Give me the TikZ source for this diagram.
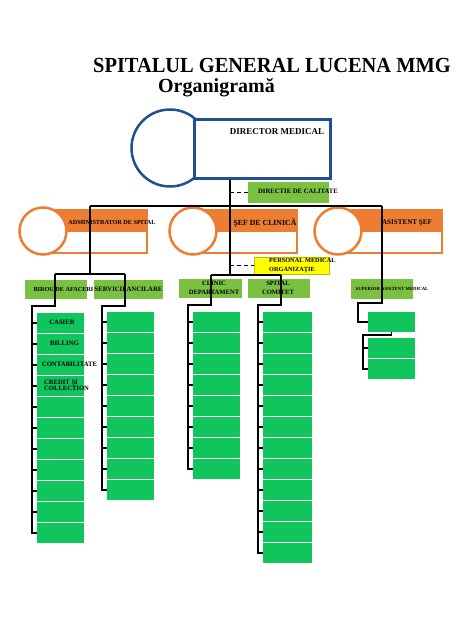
\documentclass[tikz,border=0pt]{standalone}
\usepackage{fontspec}
\setmainfont{Liberation Serif}
\definecolor{dblue}{RGB}{31,80,145}
\definecolor{orng}{RGB}{237,125,49}
\definecolor{lgrn}{RGB}{122,193,66}
\definecolor{bgrn}{RGB}{16,198,92}
\definecolor{yel}{RGB}{255,255,0}
\begin{document}
\begin{tikzpicture}[x=1pt,y=-1pt,
  gbox/.style={fill=bgrn, anchor=north west, inner sep=0pt, outer sep=0pt, minimum height=20pt, minimum width=47pt},
  lbox/.style={fill=lgrn, anchor=north west, inner sep=0pt, outer sep=0pt},
  obox/.style={draw=orng, line width=2pt, fill=white, anchor=north west, inner sep=0pt, outer sep=0pt, minimum width=102pt, minimum height=43pt},
  ocirc/.style={circle, draw=orng, line width=2.5pt, fill=white, inner sep=0pt, minimum size=47pt},
  conn/.style={line width=1.4pt, black},
  dconn/.style={line width=1.2pt, black, dash pattern=on 4pt off 3pt},
  lbl/.style={inner sep=0pt, anchor=base, font=\fontsize{#1}{#1}\selectfont\bfseries},
  lbl/.default=6.6,
  mlbl/.style={inner sep=0pt, font=\fontsize{6.6}{9}\selectfont\bfseries},
]
\useasboundingbox (0,0) rectangle (474,632);

% title
\node[lbl=21.5] (title) at (272,72.8) {\scalebox{0.95}[1]{SPITALUL GENERAL LUCENA MMG}};
\node[lbl=20] (subtitle) at (216.5,92) {Organigramă};

% director
\node[circle, draw=dblue, line width=2.5pt, fill=white, inner sep=0pt, minimum size=77pt] (dirc) at (170,148) {};
\node[draw=dblue, line width=2.5pt, fill=white, anchor=north west, inner sep=0pt, minimum width=136pt, minimum height=59pt] (dir) at (193,118) {};
\node[lbl=9] (dirt) at (277,134) {DIRECTOR MEDICAL};

% calitate
\node[lbox, minimum width=81pt, minimum height=21pt] (cal) at (248,182) {};
\node[lbl=6.7] (calt) at (298,193.3) {DIRECTIE DE CALITATE};

% level 2
\node[obox] (adm) at (45,210) {};
\fill[orng] (adm.north west) rectangle ([yshift=-22pt]adm.north east);
\node[ocirc] (admc) at (43,231) {};
\node[lbl=6.2] (admt) at (112,224) {ADMINISTRATOR DE SPITAL};

\node[obox] (clin) at (195,210) {};
\fill[orng] (clin.north west) rectangle ([yshift=-22pt]clin.north east);
\node[ocirc] (clinc) at (193,231) {};
\node[lbl=7.8] (clint) at (265,225.5) {ŞEF DE CLINICĂ};

\node[obox] (asis) at (340,210) {};
\fill[orng] (asis.north west) rectangle ([yshift=-22pt]asis.north east);
\node[ocirc] (asisc) at (338,231) {};
\node[lbl=7.1] (asist) at (407,224.5) {ASISTENT ŞEF};

% level 3
\node[lbox, minimum width=62pt, minimum height=19pt] (birou) at (25,280) {};
\node[lbox, minimum width=69pt, minimum height=19pt] (serv) at (94,280) {};
\node[lbox, minimum width=63pt, minimum height=19pt] (cdep) at (179,279) {};
\node[lbox, minimum width=62pt, minimum height=19pt] (scom) at (248,279) {};
\node[lbox, minimum width=62pt, minimum height=20pt] (sup) at (351,279) {};
\node[fill=yel, draw=yel!75!black, line width=0.4pt, anchor=north west, inner sep=0pt, minimum width=75pt, minimum height=17pt] (pers) at (254,257) {};

\node[lbl=6.2] (birout) at (63.5,291.5) {BIROU DE AFACERI};
\node[lbl=6.7] (servt) at (128.5,291.5) {SERVICII ANCILARE};
\node[mlbl, align=center] (cdept) at (214,288) {CLINIC\\DEPARTAMENT};
\node[mlbl, align=center] (scomt) at (278,288) {SPITAL\\COMITET};
\node[inner sep=0pt, font=\fontsize{6.3}{8.4}\selectfont\bfseries, align=left, anchor=west] (perst) at (269,265.4) {PERSONAL MEDICAL\\ORGANIZAŢIE};
\node[lbl=4.7] (supt) at (392,290) {SUPERIOR ASISTENT MEDICAL};

% columns
\foreach \i in {1,...,11} \node[gbox] (c1b\i) at (37,{313+21*(\i-1)}) {};
\foreach \i in {1,...,9} \node[gbox] (c2b\i) at (107,{312+21*(\i-1)}) {};
\foreach \i in {1,...,8} \node[gbox] (c3b\i) at (193,{312+21*(\i-1)}) {};
\foreach \i in {1,...,12} \node[gbox, minimum width=49pt] (c4b\i) at (263,{312+21*(\i-1)}) {};
\node[gbox] (c5b1) at (368,312) {};
\node[gbox] (c5b2) at (368,338) {};
\node[gbox] (c5b3) at (368,359) {};

\node[lbl=6.7] (casier) at (62,324) {CASIER};
\node[lbl=6.7] (billing) at (64.5,345) {BILLING};
\node[lbl=6.7] (contab) at (69.5,366) {CONTABILITATE};
\node[inner sep=0pt, font=\fontsize{6.6}{6.4}\selectfont\bfseries, align=left, anchor=west] (credit) at (44,385.3) {CREDIT ŞI\\COLLECTION};

% connectors
\coordinate (v1) at (90,206);
\coordinate (v2) at (382,206);
\coordinate (mj) at (230,275);
\draw[conn] (v1) -- (v2);
\draw[conn] (mj |- dir.south) -- (mj);
\draw[dconn] (mj |- cal.west) -- (cal.west);
\draw[dconn] (mj |- pers.west) -- (pers.west);

% left branch
\coordinate (aj) at (90,274);
\coordinate (al) at (55,274);
\coordinate (ar) at (125,274);
\coordinate (s1) at (32,306);
\coordinate (s2) at (102,306);
\draw[conn] (v1) -- (aj);
\draw[conn] (al) -- (ar);
\draw[conn] (al) |- (s1) -- (s1 |- c1b11.west) -- (c1b11.west);
\foreach \i in {1,...,10} \draw[conn] (s1 |- c1b\i.west) -- (c1b\i.west);
\draw[conn] (ar) |- (s2) -- (s2 |- c2b9.west) -- (c2b9.west);
\foreach \i in {1,...,8} \draw[conn] (s2 |- c2b\i.west) -- (c2b\i.west);

% center branch
\coordinate (cl) at (211,275);
\coordinate (cr) at (281,275);
\coordinate (s3) at (188,305);
\coordinate (s4) at (258,305);
\draw[conn] (cl) -- (cr);
\draw[conn] (cl) |- (s3) -- (s3 |- c3b8.west) -- (c3b8.west);
\foreach \i in {1,...,7} \draw[conn] (s3 |- c3b\i.west) -- (c3b\i.west);
\draw[conn] (cr) |- (s4) -- (s4 |- c4b12.west) -- (c4b12.west);
\foreach \i in {1,...,11} \draw[conn] (s4 |- c4b\i.west) -- (c4b\i.west);

% right branch
\coordinate (rj) at (358,303);
\coordinate (s5) at (363,335);
\draw[conn] (v2) |- (rj) -- (rj |- c5b1.west) -- (c5b1.west);
\draw[conn] (c5b1.south) |- (s5) -- (s5 |- c5b3.west) -- (c5b3.west);
\draw[conn] (s5 |- c5b2.west) -- (c5b2.west);
\end{tikzpicture}
\end{document}
